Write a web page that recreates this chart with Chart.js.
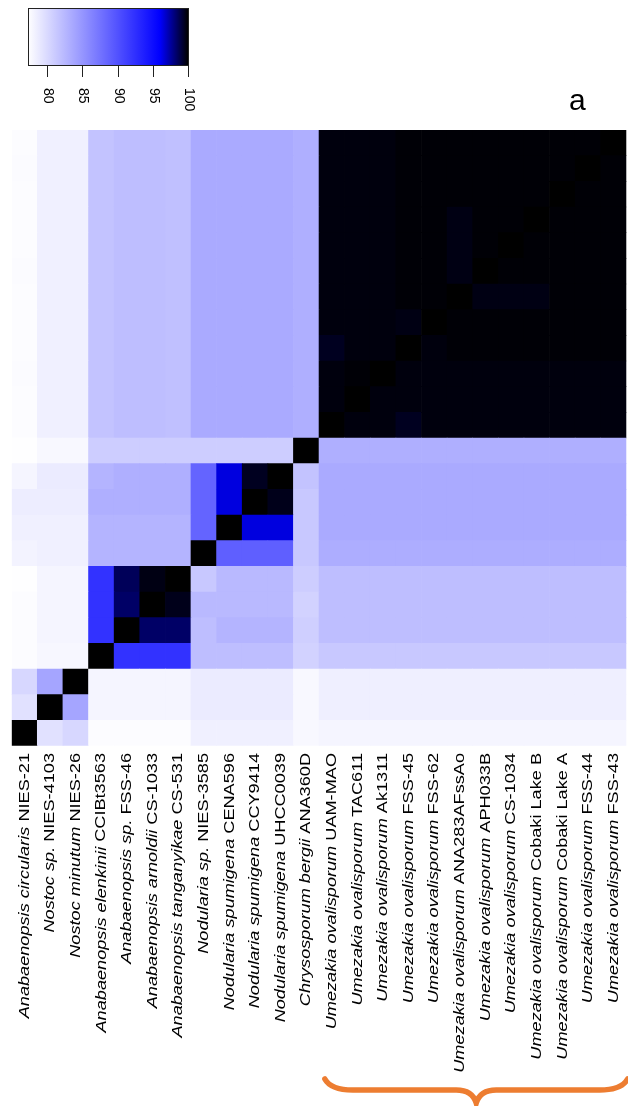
<!DOCTYPE html>
<html>
<head>
<meta charset="utf-8">
<script src="https://cdn.jsdelivr.net/npm/chart.js@4.4.1/dist/chart.umd.min.js"></script>
<style>
body { margin: 0; background: #fff; }
#wrap { position: relative; width: 628px; height: 1106px; }
#heat, #key { position: absolute; left: 0; top: 0; }
</style>
</head>
<body>
<div id="wrap">
<canvas id="heat" width="628" height="1106"></canvas>
<canvas id="key" width="210" height="125"></canvas>
</div>
<script>
// strain names: italic part + plain part
const genus = [
    'Anabaenopsis circularis', 'Nostoc sp.', 'Nostoc minutum', 'Anabaenopsis elenkinii',
    'Anabaenopsis sp.', 'Anabaenopsis arnoldii', 'Anabaenopsis tanganyikae', 'Nodularia sp.',
    'Nodularia spumigena', 'Nodularia spumigena', 'Nodularia spumigena', 'Chrysosporum bergii',
    'Umezakia ovalisporum', 'Umezakia ovalisporum', 'Umezakia ovalisporum', 'Umezakia ovalisporum',
    'Umezakia ovalisporum', 'Umezakia ovalisporum', 'Umezakia ovalisporum', 'Umezakia ovalisporum',
    'Umezakia ovalisporum', 'Umezakia ovalisporum', 'Umezakia ovalisporum', 'Umezakia ovalisporum'
]
const strain = [
    'NIES-21', 'NIES-4103', 'NIES-26', 'CCIBt3563', 'FSS-46', 'CS-1033', 'CS-531', 'NIES-3585',
    'CENA596', 'CCY9414', 'UHCC0039', 'ANA360D', 'UAM-MAO', 'TAC611', 'Ak1311', 'FSS-45',
    'FSS-62', 'ANA283AFssAo', 'APH033B', 'CS-1034', 'Cobaki Lake B', 'Cobaki Lake A', 'FSS-44', 'FSS-43'
]

// identity (%), one array per row, bottom row first, columns in strain order
const r00 = [100, 79.5, 80.2, 77.5, 77.5, 77.5, 77.5, 78.4, 78.4, 78.4, 78.4, 77.8, 78.0, 78.0, 78.0, 78.0, 78.0, 78.0, 78.0, 78.0, 78.0, 78.0, 78.0, 78.0]
const r01 = [79.5, 100, 83.9, 78.0, 78.0, 78.0, 78.0, 78.8, 78.8, 78.8, 78.8, 77.8, 78.5, 78.5, 78.5, 78.5, 78.5, 78.5, 78.5, 78.5, 78.5, 78.5, 78.5, 78.5]
const r02 = [80.2, 83.9, 100, 78.0, 78.0, 78.0, 78.0, 78.8, 78.8, 78.8, 78.8, 77.8, 78.5, 78.5, 78.5, 78.5, 78.5, 78.5, 78.5, 78.5, 78.5, 78.5, 78.5, 78.5]
const r03 = [77.5, 77.9, 77.9, 100, 92.3, 92.3, 92.3, 82.1, 82.1, 82.1, 82.1, 80.6, 81.3, 81.3, 81.3, 81.3, 81.3, 81.3, 81.3, 81.3, 81.3, 81.3, 81.3, 81.3]
const r04 = [77.5, 78.0, 78.0, 92.3, 100, 98.4, 98.4, 82.1, 82.8, 82.8, 82.8, 80.8, 82.1, 82.1, 82.1, 82.1, 82.1, 82.1, 82.1, 82.1, 82.1, 82.1, 82.1, 82.1]
const r05 = [77.5, 78.0, 78.0, 92.3, 98.4, 100, 99.6, 82.4, 82.4, 82.4, 82.4, 80.6, 82.1, 82.1, 82.1, 82.1, 82.1, 82.1, 82.1, 82.1, 82.1, 82.1, 82.1, 82.1]
const r06 = [77.4, 78.0, 78.0, 92.3, 98.6, 99.7, 100, 81.3, 82.4, 82.4, 82.4, 81.0, 82.1, 82.1, 82.1, 82.1, 82.1, 82.1, 82.1, 82.1, 82.1, 82.1, 82.1, 82.1]
const r07 = [78.2, 78.4, 78.4, 82.8, 82.8, 82.8, 82.8, 100, 89.0, 89.0, 89.0, 81.3, 83.3, 83.3, 83.3, 83.3, 83.3, 83.3, 83.3, 83.3, 83.3, 83.3, 83.3, 83.3]
const r08 = [78.4, 78.4, 78.4, 82.8, 82.8, 82.8, 82.8, 88.7, 100, 96.5, 96.5, 81.3, 83.5, 83.5, 83.5, 83.5, 83.5, 83.5, 83.5, 83.5, 83.5, 83.5, 83.5, 83.5]
const r09 = [78.6, 78.6, 78.6, 83.2, 83.2, 83.2, 83.2, 88.7, 96.5, 100, 99.6, 81.3, 83.5, 83.5, 83.5, 83.5, 83.5, 83.5, 83.5, 83.5, 83.5, 83.5, 83.5, 83.5]
const r10 = [78.0, 78.8, 78.8, 82.8, 83.2, 83.2, 83.2, 88.7, 96.5, 99.5, 100, 81.7, 83.5, 83.5, 83.5, 83.5, 83.5, 83.5, 83.5, 83.5, 83.5, 83.5, 83.5, 83.5]
const r11 = [77.4, 77.8, 77.8, 81.0, 81.0, 81.0, 81.0, 81.0, 81.0, 81.0, 81.0, 100, 83.2, 83.2, 83.2, 83.2, 83.2, 83.2, 83.2, 83.2, 83.2, 83.2, 83.2, 83.2]
const r12 = [77.5, 78.4, 78.4, 81.7, 82.1, 82.1, 81.9, 83.5, 83.5, 83.5, 83.5, 83.2, 100, 99.8, 99.8, 99.5, 99.8, 99.8, 99.8, 99.8, 99.8, 99.8, 99.8, 99.8]
const r13 = [77.5, 78.4, 78.4, 81.7, 82.1, 82.1, 81.9, 83.5, 83.5, 83.5, 83.5, 83.2, 99.8, 100, 99.8, 99.8, 99.8, 99.8, 99.8, 99.8, 99.8, 99.8, 99.8, 99.8]
const r14 = [77.6, 78.4, 78.4, 81.7, 82.1, 82.1, 81.9, 83.5, 83.5, 83.5, 83.5, 83.2, 99.8, 99.9, 100, 99.8, 99.8, 99.8, 99.8, 99.8, 99.8, 99.8, 99.8, 99.8]
const r15 = [77.5, 78.4, 78.4, 81.7, 82.1, 82.1, 81.9, 83.5, 83.5, 83.5, 83.5, 83.2, 99.5, 99.8, 99.8, 100, 99.8, 99.9, 99.9, 99.9, 99.9, 99.9, 99.9, 99.9]
const r16 = [77.5, 78.4, 78.4, 81.7, 82.1, 82.1, 81.9, 83.5, 83.5, 83.5, 83.5, 83.2, 99.8, 99.8, 99.8, 99.7, 100, 99.9, 99.9, 99.9, 99.9, 99.9, 99.9, 99.9]
const r17 = [77.5, 78.4, 78.4, 81.7, 82.1, 82.1, 81.9, 83.5, 83.5, 83.5, 83.5, 83.2, 99.8, 99.8, 99.8, 99.9, 99.9, 100, 99.7, 99.7, 99.7, 99.9, 99.9, 99.9]
const r18 = [77.6, 78.4, 78.4, 81.7, 82.1, 82.1, 81.9, 83.5, 83.5, 83.5, 83.5, 83.2, 99.8, 99.8, 99.8, 99.9, 99.9, 99.7, 100, 99.9, 99.9, 99.9, 99.9, 99.9]
const r19 = [77.5, 78.4, 78.4, 81.7, 82.1, 82.1, 81.9, 83.5, 83.5, 83.5, 83.5, 83.2, 99.8, 99.8, 99.8, 99.9, 99.9, 99.7, 99.9, 100, 99.9, 99.9, 99.9, 99.9]
const r20 = [77.5, 78.4, 78.4, 81.7, 82.1, 82.1, 81.9, 83.5, 83.5, 83.5, 83.5, 83.2, 99.8, 99.8, 99.8, 99.9, 99.9, 99.7, 99.9, 99.9, 100, 99.9, 99.9, 99.9]
const r21 = [77.5, 78.4, 78.4, 81.7, 82.1, 82.1, 81.9, 83.5, 83.5, 83.5, 83.5, 83.2, 99.8, 99.8, 99.8, 99.9, 99.9, 99.9, 99.9, 99.9, 99.9, 100, 99.9, 99.9]
const r22 = [77.6, 78.4, 78.4, 81.7, 82.1, 82.1, 81.9, 83.5, 83.5, 83.5, 83.5, 83.2, 99.8, 99.8, 99.8, 99.9, 99.9, 99.9, 99.9, 99.9, 99.9, 99.9, 100, 99.9]
const r23 = [77.5, 78.4, 78.4, 81.7, 82.1, 82.1, 81.9, 83.5, 83.5, 83.5, 83.5, 83.2, 99.8, 99.8, 99.8, 99.9, 99.9, 99.9, 99.9, 99.9, 99.9, 99.9, 99.9, 100]
const identity = [r00, r01, r02, r03, r04, r05, r06, r07, r08, r09, r10, r11,
    r12, r13, r14, r15, r16, r17, r18, r19, r20, r21, r22, r23]

// colour key
const keyStops = [77.3, 96, 100]
const keyColors = [[255, 255, 255], [0, 0, 255], [0, 0, 0]]
const keyTicks = [80, 85, 90, 95, 100]

const FONT = '"Liberation Sans", Arial, sans-serif'

function rgb(c) {
    return `rgb(${Math.round(c[0])},${Math.round(c[1])},${Math.round(c[2])})`
}

function shade(v) {
    if (v <= keyStops[0]) return rgb(keyColors[0])
    for (let i = 1; i < keyStops.length; i++) {
        if (v <= keyStops[i]) {
            const t = (v - keyStops[i - 1]) / (keyStops[i] - keyStops[i - 1])
            const a = keyColors[i - 1], b = keyColors[i]
            return rgb([a[0] + (b[0] - a[0]) * t, a[1] + (b[1] - a[1]) * t, a[2] + (b[2] - a[2]) * t])
        }
    }
    return rgb(keyColors[keyColors.length - 1])
}

const labelPlugin = {
    id: 'labels',
    afterDraw(chart) {
        const ctx = chart.ctx
        const xs = chart.scales.x
        const top = chart.chartArea.bottom + 7
        ctx.save()
        ctx.fillStyle = '#000'
        ctx.textBaseline = 'middle'
        ctx.textAlign = 'right'
        genus.forEach((g, i) => {
            ctx.save()
            ctx.translate(xs.getPixelForValue(i), top)
            ctx.rotate(-Math.PI / 2)
            ctx.scale(1.21, 1)
            ctx.font = '15px ' + FONT
            ctx.fillText(strain[i], 0, 0)
            const w = ctx.measureText(' ' + strain[i]).width
            ctx.font = 'italic 15px ' + FONT
            ctx.fillText(g, -w, 0)
            ctx.restore()
        })

        // brace under the Umezakia strains
        const x0 = xs.getPixelForValue(12) - 7
        const x1 = xs.getPixelForValue(23) + 14
        const mid = (x0 + x1) / 2
        ctx.strokeStyle = '#ed7d31'
        ctx.lineWidth = 5.5
        ctx.lineCap = 'round'
        ctx.beginPath()
        ctx.moveTo(x0, 1079)
        ctx.quadraticCurveTo(x0 + 6, 1090, x0 + 28, 1090)
        ctx.lineTo(mid - 20, 1090)
        ctx.quadraticCurveTo(mid - 4, 1090, mid, 1103)
        ctx.quadraticCurveTo(mid + 4, 1090, mid + 20, 1090)
        ctx.lineTo(x1 - 28, 1090)
        ctx.quadraticCurveTo(x1 - 6, 1090, x1, 1079)
        ctx.stroke()

        ctx.fillStyle = '#000'
        ctx.textAlign = 'left'
        ctx.textBaseline = 'alphabetic'
        ctx.font = '30px ' + FONT
        ctx.fillText('a', 569, 110)
        ctx.restore()
    }
}

const gridLine = 'rgba(255,255,255,0.22)'

new Chart(document.getElementById('heat'), {
    type: 'bar',
    data: {
        labels: genus.map((g, i) => g + ' ' + strain[i]),
        datasets: identity.map((row, r) => ({
            data: row.map(() => [r, r + 1]),
            backgroundColor: row.map(shade),
            borderWidth: 0,
            grouped: false,
            barPercentage: 1,
            categoryPercentage: 1
        }))
    },
    options: {
        responsive: false,
        animation: false,
        layout: { padding: { left: 11.7, right: 1.6, top: 130, bottom: 360 } },
        plugins: {
            legend: { display: false },
            tooltip: { enabled: false }
        },
        scales: {
            x: {
                z: 1,
                grid: { color: gridLine, drawTicks: false, offset: true },
                border: { display: false },
                ticks: { display: false }
            },
            y: {
                z: 1,
                min: 0,
                max: 24,
                grid: { color: gridLine, drawTicks: false },
                border: { display: false },
                ticks: { display: false, stepSize: 1 }
            }
        }
    },
    plugins: [labelPlugin]
})

const keyPlugin = {
    id: 'keyTicks',
    afterDraw(chart) {
        const ctx = chart.ctx
        const a = chart.chartArea
        const xs = chart.scales.x
        ctx.save()
        ctx.strokeStyle = '#222'
        ctx.lineWidth = 1
        ctx.strokeRect(Math.round(a.left) + 0.5, Math.round(a.top) + 0.5, Math.round(a.right - a.left), Math.round(a.bottom - a.top))
        ctx.fillStyle = '#000'
        ctx.font = '14px ' + FONT
        ctx.textAlign = 'left'
        ctx.textBaseline = 'middle'
        keyTicks.forEach(v => {
            const x = Math.round(xs.getPixelForValue(v)) + 0.5
            ctx.beginPath()
            ctx.moveTo(x, a.bottom)
            ctx.lineTo(x, a.bottom + 12)
            ctx.stroke()
            ctx.save()
            ctx.translate(x, a.bottom + 23)
            ctx.rotate(Math.PI / 2)
            ctx.fillText(String(v), 0, 0)
            ctx.restore()
        })
        ctx.restore()
    }
}

function keyFill(c) {
    const ch = c.chart
    if (!ch.chartArea) return '#fff'
    const xs = ch.scales.x
    const lo = keyStops[0], hi = keyStops[keyStops.length - 1]
    const g = ch.ctx.createLinearGradient(xs.getPixelForValue(lo), 0, xs.getPixelForValue(hi), 0)
    keyStops.forEach((s, i) => g.addColorStop((s - lo) / (hi - lo), rgb(keyColors[i])))
    return g
}

new Chart(document.getElementById('key'), {
    type: 'bar',
    data: {
        labels: [''],
        datasets: [{
            data: [[keyStops[0], keyStops[keyStops.length - 1]]],
            backgroundColor: keyFill,
            borderWidth: 0,
            barPercentage: 1,
            categoryPercentage: 1
        }]
    },
    options: {
        indexAxis: 'y',
        responsive: false,
        animation: false,
        layout: { padding: { left: 28, right: 22, top: 8, bottom: 60 } },
        plugins: {
            legend: { display: false },
            tooltip: { enabled: false }
        },
        scales: {
            x: { display: false, min: keyStops[0], max: keyStops[keyStops.length - 1] },
            y: { display: false }
        }
    },
    plugins: [keyPlugin]
})
</script>
</body>
</html>
